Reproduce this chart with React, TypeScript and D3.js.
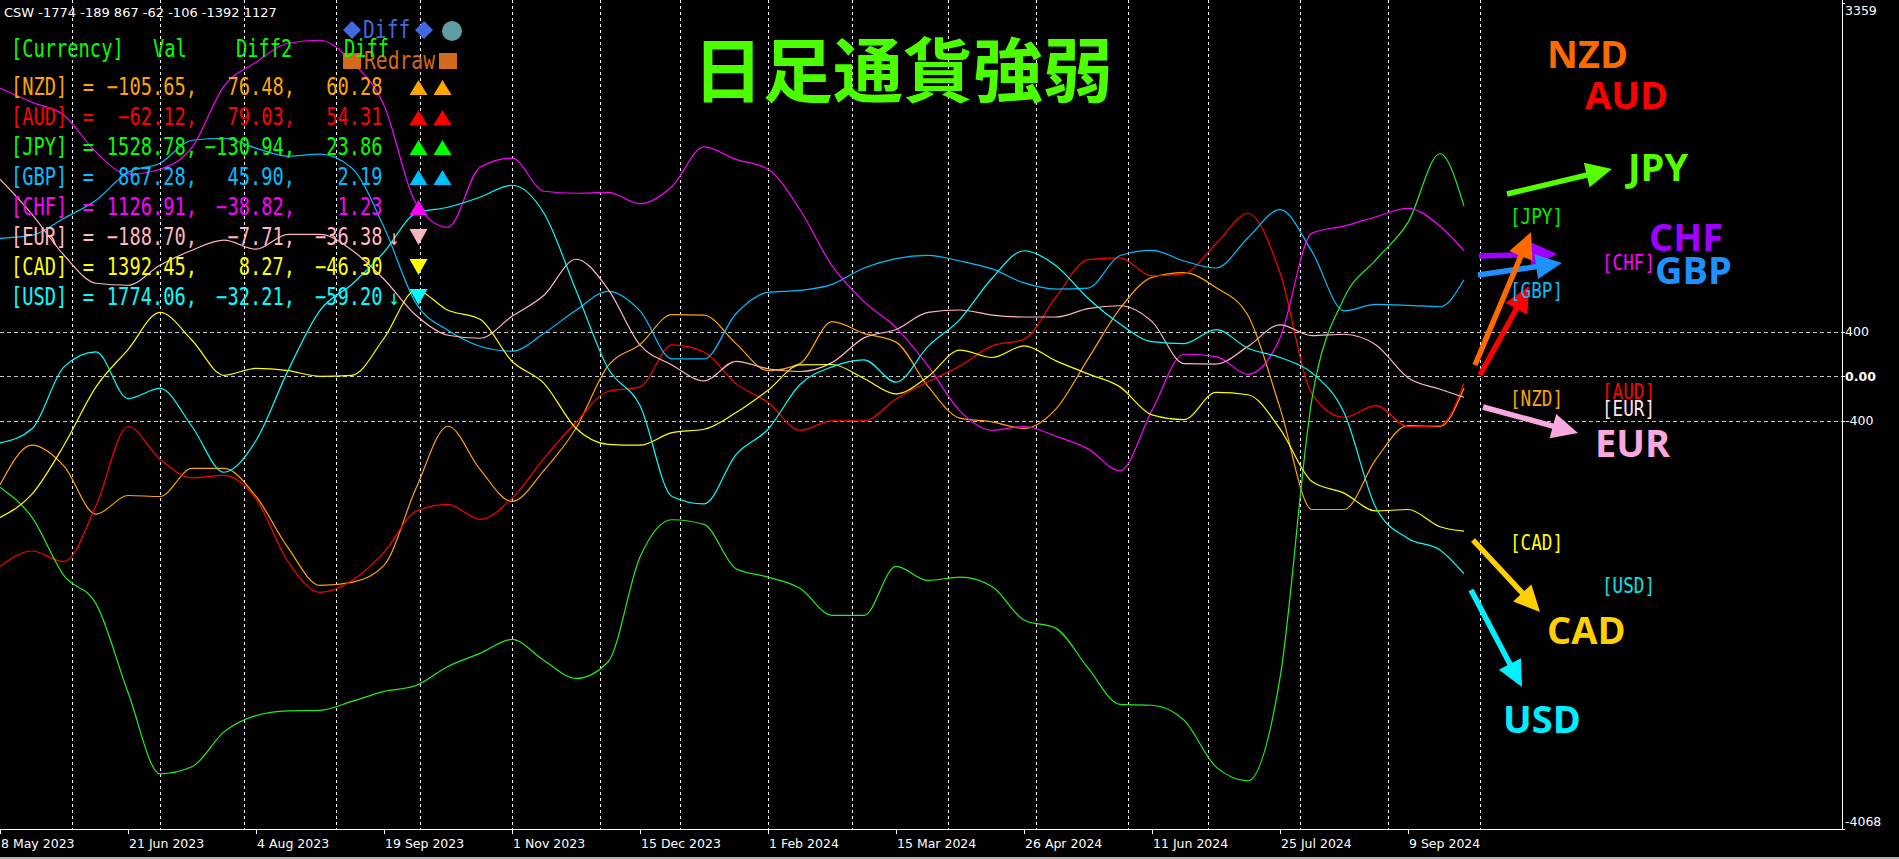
import React from "react";
import * as d3 from "d3";

// ---------- DATA ----------
// bar index of each sample (daily bars, 8 May 2023 = bar 0)
const sampleBars: number[] = [...d3.range(0, 361, 8), 366];

const NZD = [-975, -619, -807, -1239, -1071, -1080, -828, -828, -1080, -1540, -1879, -1852, -1699, -1007, -449, -836, -1124, -845, -467, 93, 286, 554, 550, 294, 51, 114, 491, 386, 307, -91, -376, -409, -468, -292, 156, 608, 889, 931, 797, 546, -284, -1197, -1197, -745, -443, -451, -106];
const AUD = [-1708, -1570, -1666, -1164, -451, -745, -912, -891, -1101, -1666, -1942, -1834, -1582, -1214, -1151, -1285, -1097, -737, -413, -137, -95, 282, 219, -66, -234, -485, -401, -401, -204, -49, 93, 273, 332, 713, 1048, 1065, 902, 923, 1191, 1463, 931, -158, -368, -263, -451, -443, -62];
const JPY = [-996, -1268, -1792, -2043, -2839, -3572, -3509, -3195, -3049, -3007, -3002, -2921, -2832, -2778, -2607, -2490, -2364, -2553, -2715, -2567, -1624, -1289, -1331, -1729, -1804, -1905, -2148, -2148, -1708, -1834, -1804, -1888, -2190, -2265, -2621, -2948, -2956, -3090, -3510, -3635, -2713, -200, 701, 1048, 1383, 2000, 1529];
const GBP = [1240, 1268, 1420, 1582, 1834, 1915, 2121, 2139, 2050, 1978, 1996, 1870, 1339, 656, 413, 270, 225, 387, 593, 764, 588, 156, 156, 562, 755, 772, 826, 973, 1057, 1086, 1036, 965, 839, 784, 793, 1086, 1132, 1036, 973, 1245, 1497, 1120, 588, 646, 638, 625, 867];
const CHF = [2589, 2463, 2346, 2014, 1816, 1861, 2058, 2607, 2823, 2993, 3020, 2823, 2436, 1555, 1339, 1879, 1960, 1663, 1645, 1652, 1551, 1706, 2062, 1949, 1861, 1497, 994, 671, 437, 93, -313, -485, -451, -539, -652, -849, -305, 198, 177, 18, 345, 1287, 1350, 1434, 1509, 1350, 1127];
const EUR = [1771, 1456, 1088, 836, 818, 998, 1133, 1223, 1142, 1276, 1276, 1133, 872, 548, 369, 342, 539, 728, 1052, 784, 282, 102, -41, 135, 68, 43, 123, 345, 420, 575, 596, 550, 533, 533, 608, 634, 491, 114, 110, 269, 462, 366, 378, 282, -12, -116, -189];
const CAD = [-1268, -1059, -619, -95, 240, 575, 324, 9, 72, 51, 0, 9, 342, 773, 593, 512, 135, -63, -467, -611, -619, -506, -476, -326, -125, 102, 106, -20, -158, -3, 236, 169, 273, 139, 22, -95, -347, -389, -145, -166, -472, -946, -1050, -1210, -1197, -1352, -1392];
const USD = [-598, -472, 85, 219, -200, -108, -451, -862, -577, 51, 593, 827, 1115, 1465, 1519, 1609, 1717, 1465, 773, 72, -263, -1080, -1147, -703, -476, -74, 85, 148, -53, 269, 512, 881, 1128, 994, 701, 470, 311, 294, 420, 252, 169, 30, -326, -1184, -1457, -1561, -1774];

const currencyNames = ["NZD", "AUD", "JPY", "GBP", "CHF", "EUR", "CAD", "USD"];
const seriesValues = [NZD, AUD, JPY, GBP, CHF, EUR, CAD, USD];

const dateTickLabels = ["8 May 2023", "21 Jun 2023", "4 Aug 2023", "19 Sep 2023", "1 Nov 2023", "15 Dec 2023", "1 Feb 2024", "15 Mar 2024", "26 Apr 2024", "11 Jun 2024", "25 Jul 2024", "9 Sep 2024"];
const dateTickBars = d3.range(0, 353, 32);
const monthGridBars = [18, 40, 61, 84, 105, 128, 150, 170, 192, 213, 237, 259, 282, 302, 325, 347, 370];
const levelValues = [400, 0, -400];
const yMin = -4068;
const yMax = 3359;

const cswValues = [-1774, -189, 867, -62, -106, -1392, 1127];
const tableVal = ["-105.65", "-62.12", "1528.78", "867.28", "1126.91", "-188.70", "1392.45", "1774.06"];
const tableDiff2 = ["76.48", "79.03", "-130.94", "45.90", "-38.82", "-7.71", "8.27", "-32.21"];
const tableDiff = ["60.28", "54.31", "23.86", "2.19", "1.23", "-36.38", "-46.30", "-59.20"];
const trendMarks = ["▲▲", "▲▲", "▲▲", "▲▲", "▲", "↓▼", "▼", "↓▼"];

// ---------- STYLES ----------
const lineColors: Record<string, string> = {
  NZD: "#FFA500", AUD: "#FF0000", JPY: "#22EE22", GBP: "#00BFFF",
  CHF: "#FF00FF", EUR: "#FFB6C1", CAD: "#FFFF00", USD: "#00FFFF",
};
const textColors: Record<string, string> = {
  NZD: "#FFA500", AUD: "#FF0000", JPY: "#00FF00", GBP: "#00BFFF",
  CHF: "#FF00FF", EUR: "#FFB6C1", CAD: "#FFFF00", USD: "#00FFFF",
};
const MONO = "'DejaVu Sans Mono', monospace";
const SANS = "'DejaVu Sans', sans-serif";

const bigLabels = [
  { t: "NZD", x: 1547, y: 68, c: "#FF6A00" },
  { t: "AUD", x: 1585, y: 109, c: "#FF0000" },
  { t: "JPY", x: 1628, y: 181, c: "#55FF00" },
  { t: "CHF", x: 1649, y: 251, c: "#A000FF" },
  { t: "GBP", x: 1655, y: 284, c: "#1E90FF" },
  { t: "EUR", x: 1595, y: 457, c: "#F9A8E0" },
  { t: "CAD", x: 1547, y: 644, c: "#FFD000" },
  { t: "USD", x: 1503, y: 733, c: "#00EEFF" },
];
const smallLabels = [
  { t: "[JPY]", x: 1510, y: 224, c: "#00EE00" },
  { t: "[CHF]", x: 1602, y: 270, c: "#FF00FF" },
  { t: "[GBP]", x: 1510, y: 298, c: "#00BFFF" },
  { t: "[NZD]", x: 1510, y: 406, c: "#FFA500" },
  { t: "[AUD]", x: 1602, y: 399, c: "#FF0000" },
  { t: "[EUR]", x: 1602, y: 416, c: "#FFE4EC" },
  { t: "[CAD]", x: 1510, y: 550, c: "#FFFF00" },
  { t: "[USD]", x: 1602, y: 593, c: "#00E5E5" },
];
const arrows = [
  { x1: 1507, y1: 194, x2: 1612, y2: 169, c: "#55FF00" },
  { x1: 1479, y1: 256, x2: 1557, y2: 254, c: "#A000FF" },
  { x1: 1478, y1: 275, x2: 1562, y2: 263, c: "#1E90FF" },
  { x1: 1475, y1: 365, x2: 1531, y2: 232, c: "#FF6A00" },
  { x1: 1480, y1: 375, x2: 1529, y2: 286, c: "#FF0000" },
  { x1: 1483, y1: 407, x2: 1578, y2: 433, c: "#F9A8E0" },
  { x1: 1473, y1: 540, x2: 1540, y2: 612, c: "#FFD000" },
  { x1: 1471, y1: 590, x2: 1522, y2: 687, c: "#00F0FF" },
];

const minus = (s: string) => s.replace(/-/g, "−");

function MText({ x, y, children, fill, size = 24, sx = 0.78, anchor = "start" }: any) {
  return (
    <text transform={`translate(${x},${y}) scale(${sx},1)`} fontFamily={MONO} fontSize={size} fill={fill} textAnchor={anchor}>
      {children}
    </text>
  );
}

function Arrow({ x1, y1, x2, y2, c }: any) {
  const dx = x2 - x1, dy = y2 - y1;
  const len = Math.hypot(dx, dy);
  const ux = dx / len, uy = dy / len;
  const hl = 26, hw = 12.5;
  const bx = x2 - ux * hl, by = y2 - uy * hl;
  const px = -uy, py = ux;
  return (
    <g>
      <line x1={x1} y1={y1} x2={bx + ux * 2} y2={by + uy * 2} stroke={c} strokeWidth={5.5} />
      <polygon points={`${x2},${y2} ${bx + px * hw},${by + py * hw} ${bx - px * hw},${by - py * hw}`} fill={c} />
    </g>
  );
}

export default function App() {
  const W = 1899, H = 859;
  const plotRight = 1842, plotBottom = 829;
  const x = d3.scaleLinear().domain([0, plotRight / 4]).range([0, plotRight]);
  const y = d3.scaleLinear().domain([yMin, yMax]).range([plotBottom, 2.5]);

  const line = d3
    .line<number>()
    .x((_, i) => x(sampleBars[i]))
    .y((d) => y(d))
    .curve(d3.curveMonotoneX);

  const rowY = (i: number) => 95 + i * 30;

  return (
    <>
      <style>{"body{margin:0;background:#000;overflow:hidden}"}</style>
      <svg width={W} height={H} style={{ display: "block", background: "#000" }}>
        <rect x={0} y={0} width={W} height={H} fill="#000" />
        {/* vertical grid */}
        {monthGridBars.map((b) => (
          <line key={"g" + b} x1={Math.round(x(b)) + 0.5} x2={Math.round(x(b)) + 0.5} y1={0} y2={plotBottom} stroke="#FFFFFF" strokeWidth={1} strokeDasharray="3,3" />
        ))}
        {/* level lines */}
        {levelValues.map((v) => (
          <line key={"l" + v} x1={0} x2={plotRight} y1={Math.round(y(v)) + 0.5} y2={Math.round(y(v)) + 0.5} stroke="#C8C8C8" strokeWidth={1} strokeDasharray="4,3" />
        ))}
        {/* series */}
        {seriesValues.map((vals, k) => (
          <path key={currencyNames[k]} d={line(vals) || ""} fill="none" stroke={lineColors[currencyNames[k]]} strokeWidth={1.2} />
        ))}
        {/* axes frame */}
        <line x1={0} x2={plotRight + 0.5} y1={plotBottom + 0.5} y2={plotBottom + 0.5} stroke="#FFFFFF" />
        <line x1={plotRight + 0.5} x2={plotRight + 0.5} y1={0} y2={plotBottom + 0.5} stroke="#FFFFFF" />
        {/* date ticks */}
        {dateTickBars.map((b, i) => (
          <g key={"d" + b}>
            <line x1={x(b) + 0.5} x2={x(b) + 0.5} y1={plotBottom} y2={plotBottom + 5} stroke="#FFFFFF" />
            <text x={x(b) + 1} y={848} fontFamily={SANS} fontSize={12.5} fill="#FFFFFF">{dateTickLabels[i]}</text>
          </g>
        ))}
        {/* right axis labels */}
        {[yMax, ...levelValues, yMin].map((v) => {
          const yy = Math.min(Math.max(y(v) + 4.5, 15), 826);
          return (
            <g key={"a" + v}>
              <line x1={plotRight} x2={plotRight + 3} y1={Math.round(y(v)) + 0.5} y2={Math.round(y(v)) + 0.5} stroke="#FFFFFF" />
              <text x={1845} y={yy} fontFamily={SANS} fontSize={12.5} fill="#FFFFFF" fontWeight={v === 0 ? 700 : 400}>
                {v === 0 ? "0.00" : String(v)}
              </text>
            </g>
          );
        })}
        <rect x={0} y={857} width={W} height={2} fill="#B0B0B0" />

        {/* title */}
        <text x={903} y={97} textAnchor="middle" fontFamily="'Noto Sans CJK JP', sans-serif" fontWeight={700} fontSize={70} fill="#4CFF00">日足通貨強弱</text>

        {/* CSW header */}
        <text x={4} y={17} fontFamily={SANS} fontSize={13} fill="#FFFFFF">{"CSW " + cswValues.join(" ")}</text>

        {/* Diff / Redraw buttons */}
        <polygon points="343,30 352,21 361,30 352,39" fill="#4169E1" />
        <MText x={363} y={38} fill="#4169E1" size={24} sx={0.82}>Diff</MText>
        <polygon points="415,30 424,21 433,30 424,39" fill="#4169E1" />
        <circle cx={452} cy={31} r={10} fill="#5F9EA0" />
        <rect x={343} y={53} width={18} height={16} fill="#D2691E" />
        <MText x={364} y={69} fill="#D2691E" size={24} sx={0.82}>Redraw</MText>
        <rect x={439} y={53} width={18} height={16} fill="#D2691E" />

        {/* table header */}
        <MText x={11} y={57} fill="#00FF00">[Currency]</MText>
        <MText x={153} y={57} fill="#00FF00">Val</MText>
        <MText x={236} y={57} fill="#00FF00">Diff2</MText>
        <MText x={344} y={57} fill="#00FF00">Diff</MText>

        {/* table rows */}
        {currencyNames.map((c, i) => {
          const col = textColors[c];
          const by = rowY(i);
          const marks = trendMarks[i];
          const ups = (marks.match(/▲/g) || []).length;
          const down = marks.includes("▼");
          const arrowDown = marks.includes("↓");
          const tri = (cx: number, upDir: boolean) =>
            upDir
              ? `${cx - 9},${by} ${cx + 9},${by} ${cx},${by - 15}`
              : `${cx - 9},${by - 16} ${cx + 9},${by - 16} ${cx},${by}`;
          return (
            <g key={"r" + c}>
              <MText x={11} y={by} fill={col}>{"[" + c + "]"}</MText>
              <MText x={88.5} y={by} fill={col} anchor="middle">=</MText>
              <MText x={197} y={by} fill={col} anchor="end">{minus(tableVal[i]) + ","}</MText>
              <MText x={295} y={by} fill={col} anchor="end">{minus(tableDiff2[i]) + ","}</MText>
              <MText x={382.5} y={by} fill={col} anchor="end">{minus(tableDiff[i])}</MText>
              {arrowDown && <MText x={394} y={by} fill={col} anchor="middle" size={22}>↓</MText>}
              {ups >= 1 && <polygon points={tri(418.5, true)} fill={col} />}
              {ups >= 2 && <polygon points={tri(442.5, true)} fill={col} />}
              {down && <polygon points={tri(418.5, false)} fill={col} />}
            </g>
          );
        })}

        {/* arrows */}
        {arrows.map((a, i) => <Arrow key={"ar" + i} {...a} />)}

        {/* small labels */}
        {smallLabels.map((l) => (
          <MText key={l.t} x={l.x} y={l.y} fill={l.c} size={21} sx={0.84}>{l.t}</MText>
        ))}

        {/* big labels */}
        {bigLabels.map((l) => (
          <text key={l.t} x={l.x} y={l.y} fontFamily="'Open Sans', sans-serif" fontWeight={700} fontSize={38} fill={l.c}>{l.t}</text>
        ))}
      </svg>
    </>
  );
}
